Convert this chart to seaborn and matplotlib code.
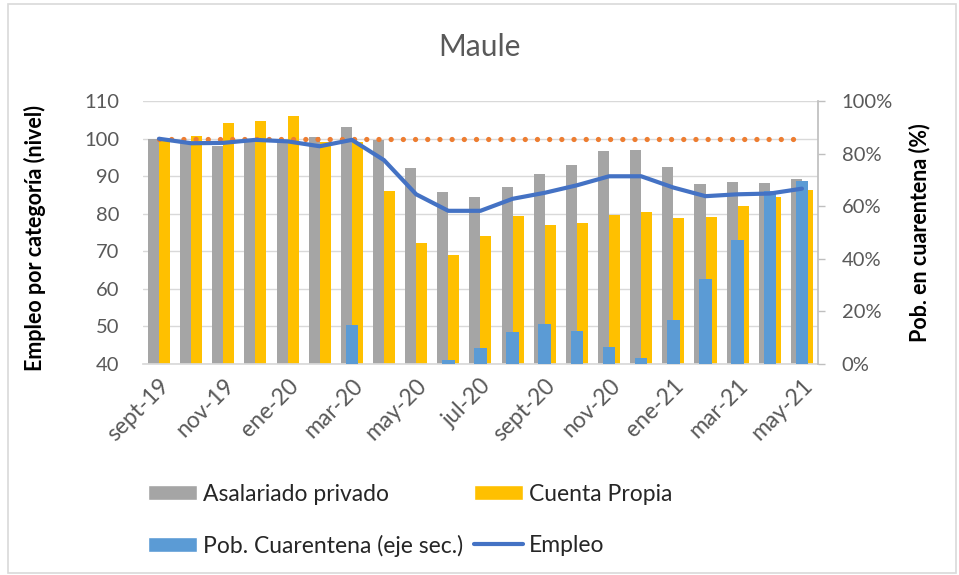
import numpy as np
import pandas as pd
import seaborn as sns
import matplotlib.pyplot as plt
from matplotlib.patches import Patch, Rectangle
from matplotlib.lines import Line2D
from matplotlib.ticker import PercentFormatter


meses = ['sept-19', 'oct-19', 'nov-19', 'dic-19', 'ene-20', 'feb-20', 'mar-20',
         'abr-20', 'may-20', 'jun-20', 'jul-20', 'ago-20', 'sept-20', 'oct-20',
         'nov-20', 'dic-20', 'ene-21', 'feb-21', 'mar-21', 'abr-21', 'may-21']
asalariado = [100.0, 99.3, 98.1, 99.7, 99.5, 100.5, 103.1, 99.7, 92.2, 85.9, 84.5,
              87.2, 90.5, 92.9, 96.7, 97.0, 92.4, 88.0, 88.4, 88.3, 89.4]
cuenta_propia = [100.0, 100.7, 104.2, 104.7, 106.0, 99.0, 99.2, 86.2, 72.3, 69.1, 74.2,
                 79.4, 77.1, 77.5, 79.6, 80.5, 78.8, 79.2, 82.0, 84.4, 86.4]
cuarentena = [0, 0, 0, 0, 0, 0, 14.7, 0, 0, 1.5, 6.2,
              12.1, 15.2, 12.5, 6.6, 2.3, 16.7, 32.2, 47.0, 65.9, 69.7]
empleo = [100.0, 98.8, 98.9, 99.7, 99.3, 98.0, 99.7, 94.3, 85.2, 80.8, 80.8,
          84.0, 85.6, 87.6, 90.0, 90.0, 87.0, 84.7, 85.2, 85.4, 86.7]
base = [100] * len(meses)   # linea de referencia

GRIS = '#A5A5A5'
AMARILLO = '#FFC000'
AZUL = '#5B9BD5'
AZUL_LINEA = '#4472C4'
NARANJO = '#ED7D31'
TEXTO = '#595959'

sns.set_theme(style='white')
plt.rcParams['font.family'] = ['Lato', 'DejaVu Sans']

fig = plt.figure(figsize=(9.59, 5.75), dpi=100)
# marco del grafico
fig.patches.append(Rectangle((8 / 959, 2 / 575), 948 / 959, 569 / 575,
                             transform=fig.transFigure, fill=False,
                             edgecolor='#D9D9D9', lw=1.2))

ax1 = fig.add_axes([0.149, 0.367, 0.704, 0.457])
ax2 = ax1.twinx()
ax3 = ax1.twinx()

# barras del eje principal
df = pd.DataFrame({
    'mes': meses * 2,
    'valor': asalariado + cuenta_propia,
    'serie': ['Asalariado privado'] * len(meses) + ['Cuenta Propia'] * len(meses),
})
sns.barplot(data=df, x='mes', y='valor', hue='serie', palette=[GRIS, AMARILLO],
            width=0.686, gap=0, saturation=1, linewidth=0, ax=ax1, legend=False)
ax1.set_ylim(40, 110)
ax1.set_yticks(range(40, 111, 10))
ax1.yaxis.grid(True, color='#D9D9D9', lw=1)
ax1.set_axisbelow(True)

# eje secundario
sns.barplot(x=meses, y=cuarentena, color=AZUL, width=0.39, saturation=1,
            linewidth=0, ax=ax2)
ax2.set_ylim(0, 100)
ax2.set_yticks(range(0, 101, 20))
ax2.yaxis.set_major_formatter(PercentFormatter(decimals=0))

# lineas
x = np.arange(len(meses))
sns.lineplot(x=x, y=base, ax=ax3, color=NARANJO, lw=3.8,
             linestyle=(0, (0.01, 2.3)), dash_capstyle='round')
sns.lineplot(x=x, y=empleo, ax=ax3, color=AZUL_LINEA, lw=3.0)
ax3.set_ylim(40, 110)
ax3.axis('off')

ax1.set_xlim(-0.5, len(meses) - 0.5)
ax1.set_xticks(x[::2])
ax1.set_xticklabels(meses[::2], rotation=45, ha='right', rotation_mode='anchor')
for a in (ax1, ax2):
    a.set_xlabel('')
    a.set_ylabel('')

for s in ['top', 'left', 'right']:
    ax1.spines[s].set_visible(False)
ax1.spines['bottom'].set_color('#D9D9D9')
for s in ['top', 'left', 'bottom']:
    ax2.spines[s].set_visible(False)
ax2.spines['right'].set_color('#BFBFBF')

ax1.tick_params(axis='y', length=0, pad=17, labelsize=14.5, labelcolor=TEXTO)
ax1.tick_params(axis='x', length=0, pad=8, labelsize=16.5, labelcolor=TEXTO)
ax2.tick_params(axis='y', direction='out', length=5, width=1, color='#BFBFBF',
                pad=12, labelsize=14.5, labelcolor=TEXTO, right=True)

fig.text(0.5, 0.918, 'Maule', ha='center', va='center', fontsize=21.5, color=TEXTO)
fig.text(0.0365, 0.586, 'Empleo por categoría (nivel)', rotation=90, ha='center',
         va='center', fontsize=15.5, fontweight='bold', color='black')
fig.text(0.959, 0.596, 'Pob. en cuarentena (%)', rotation=90, ha='center',
         va='center', fontsize=15.5, fontweight='bold', color='black')

handles = [Patch(facecolor=GRIS, label='Asalariado privado'),
           Patch(facecolor=AZUL, label='Pob. Cuarentena (eje sec.)'),
           Patch(facecolor=AMARILLO, label='Cuenta Propia'),
           Line2D([], [], color=AZUL_LINEA, lw=3, label='Empleo')]
fig.legend(handles=handles, ncol=2, loc='center left', bbox_to_anchor=(0.1543, 0.095),
           frameon=False, fontsize=16.5, handlelength=2.15, handleheight=0.62,
           handletextpad=0.27, columnspacing=0.45, labelspacing=1.3,
           borderpad=0, borderaxespad=0)

fig.savefig('out.png', dpi=100)
